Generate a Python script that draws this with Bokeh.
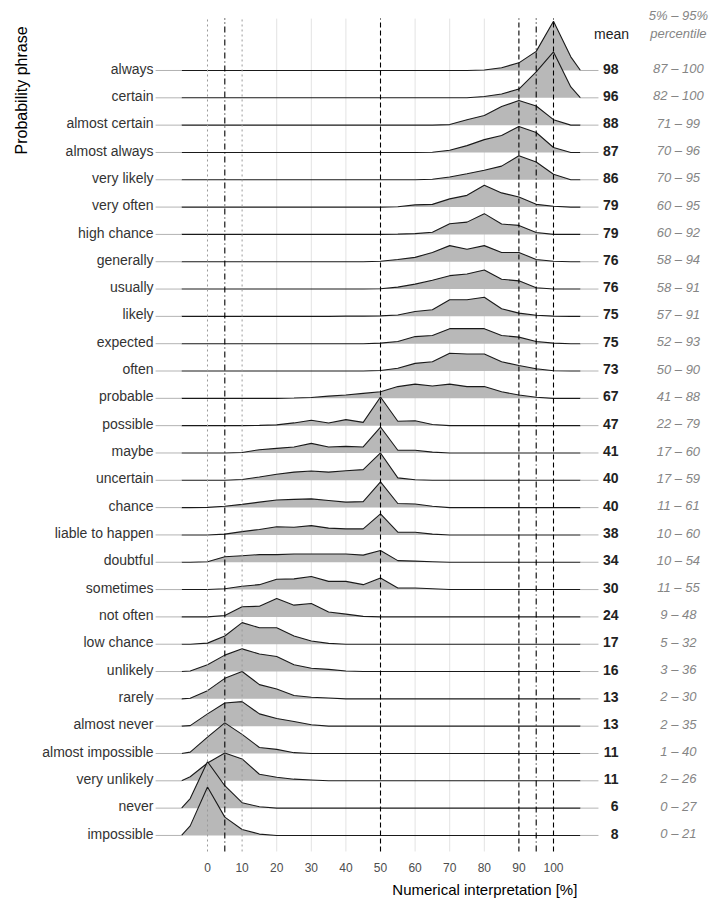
import math
from bokeh.plotting import figure
from bokeh.embed import file_html
from bokeh.resources import INLINE
from bokeh.core.properties import value

# ---------------- data ----------------
phrases = ["always", "certain", "almost certain", "almost always", "very likely",
           "very often", "high chance", "generally", "usually", "likely",
           "expected", "often", "probable", "possible", "maybe", "uncertain",
           "chance", "liable to happen", "doubtful", "sometimes", "not often",
           "low chance", "unlikely", "rarely", "almost never",
           "almost impossible", "very unlikely", "never", "impossible"]

means = [98, 96, 88, 87, 86, 79, 79, 76, 76, 75, 75, 73, 67, 47, 41, 40, 40,
         38, 34, 30, 24, 17, 16, 13, 13, 11, 11, 6, 8]

pct_low = [87, 82, 71, 70, 70, 60, 60, 58, 58, 57, 52, 50, 41, 22, 17, 17, 11,
           10, 10, 11, 9, 5, 3, 2, 2, 1, 2, 0, 0]
pct_high = [100, 100, 99, 96, 95, 95, 92, 94, 91, 91, 93, 90, 88, 79, 60, 59,
            61, 60, 54, 55, 48, 32, 36, 30, 35, 40, 26, 27, 21]

# density evaluation points (%)
grid = [-5, 0, 5, 10, 15, 20, 25, 30, 35, 40, 45, 50, 55, 60, 65, 70, 75, 80,
        85, 90, 95, 100, 105]

d_always = [0, 0, 0, 0, 0, 0, 0, 0, 0, 0, 0, 0, 0, 0, 0, 0, 0, 0.02, 0.1, 0.28, 0.7, 1.8, 0.5]
d_certain = [0, 0, 0, 0, 0, 0, 0, 0, 0, 0, 0, 0, 0, 0, 0, 0, 0, 0.05, 0.14, 0.32, 0.95, 1.68, 0.4]
d_almost_certain = [0, 0, 0, 0, 0, 0, 0, 0, 0, 0, 0, 0, 0, 0, 0, 0.02, 0.2, 0.35, 0.68, 0.9, 0.7, 0.2, 0]
d_almost_always = [0, 0, 0, 0, 0, 0, 0, 0, 0, 0, 0, 0, 0, 0, 0.01, 0.08, 0.25, 0.47, 0.62, 0.95, 0.73, 0.18, 0]
d_very_likely = [0, 0, 0, 0, 0, 0, 0, 0, 0, 0, 0, 0, 0, 0, 0.02, 0.1, 0.22, 0.35, 0.5, 0.88, 0.65, 0.2, 0]
d_very_often = [0, 0, 0, 0, 0, 0, 0, 0, 0, 0, 0, 0, 0.01, 0.08, 0.1, 0.3, 0.43, 0.8, 0.52, 0.37, 0.1, 0.03, 0]
d_high_chance = [0, 0, 0, 0, 0, 0, 0, 0, 0, 0, 0, 0, 0.01, 0.03, 0.08, 0.39, 0.45, 0.76, 0.38, 0.33, 0.07, 0, 0]
d_generally = [0, 0, 0, 0, 0, 0, 0, 0, 0, 0, 0, 0.02, 0.08, 0.16, 0.34, 0.59, 0.46, 0.59, 0.34, 0.34, 0.08, 0.02, 0]
d_usually = [0, 0, 0, 0, 0, 0, 0, 0, 0, 0, 0, 0.01, 0.07, 0.18, 0.32, 0.49, 0.55, 0.7, 0.36, 0.3, 0.05, 0, 0]
d_likely = [0, 0, 0, 0, 0, 0, 0, 0, 0, 0.01, 0.01, 0.02, 0.05, 0.18, 0.24, 0.61, 0.61, 0.7, 0.28, 0.12, 0.04, 0.01, 0]
d_expected = [0, 0, 0, 0, 0, 0, 0, 0, 0, 0, 0, 0.02, 0.08, 0.26, 0.3, 0.55, 0.55, 0.55, 0.3, 0.24, 0.08, 0.02, 0]
d_often = [0, 0, 0, 0, 0, 0, 0, 0, 0, 0, 0, 0.02, 0.1, 0.28, 0.34, 0.65, 0.62, 0.62, 0.34, 0.2, 0.08, 0.01, 0]
d_probable = [0, 0, 0, 0, 0, 0, 0.01, 0.03, 0.08, 0.12, 0.18, 0.24, 0.43, 0.52, 0.45, 0.52, 0.43, 0.43, 0.24, 0.12, 0.04, 0, 0]
d_possible = [0, 0, 0, 0, 0.01, 0.03, 0.1, 0.2, 0.1, 0.22, 0.12, 1.05, 0.16, 0.18, 0.04, 0, 0, 0, 0, 0, 0, 0, 0]
d_maybe = [0, 0, 0, 0.02, 0.12, 0.17, 0.22, 0.35, 0.22, 0.24, 0.22, 0.95, 0.1, 0.1, 0.03, 0, 0, 0, 0, 0, 0, 0, 0]
d_uncertain = [0, 0, 0, 0.03, 0.12, 0.22, 0.3, 0.34, 0.3, 0.35, 0.39, 1.0, 0.09, 0.02, 0, 0, 0, 0, 0, 0, 0, 0, 0]
d_chance = [0, 0.01, 0.05, 0.12, 0.2, 0.28, 0.3, 0.32, 0.26, 0.2, 0.22, 0.94, 0.15, 0.13, 0.05, 0, 0, 0, 0, 0, 0, 0, 0]
d_liable = [0, 0, 0.03, 0.12, 0.2, 0.3, 0.28, 0.34, 0.25, 0.22, 0.22, 0.77, 0.1, 0.1, 0.03, 0, 0, 0, 0, 0, 0, 0, 0]
d_doubtful = [0, 0.02, 0.2, 0.24, 0.28, 0.28, 0.3, 0.3, 0.3, 0.3, 0.26, 0.43, 0.06, 0.04, 0.02, 0, 0, 0, 0, 0, 0, 0, 0]
d_sometimes = [0, 0, 0.03, 0.12, 0.18, 0.38, 0.39, 0.48, 0.3, 0.3, 0.18, 0.42, 0.06, 0.06, 0.03, 0, 0, 0, 0, 0, 0, 0, 0]
d_not_often = [0, 0, 0.05, 0.37, 0.39, 0.67, 0.43, 0.49, 0.18, 0.1, 0.02, 0, 0, 0, 0, 0, 0, 0, 0, 0, 0, 0, 0]
d_low_chance = [0, 0.04, 0.3, 0.79, 0.6, 0.6, 0.3, 0.12, 0.03, 0, 0, 0, 0, 0, 0, 0, 0, 0, 0, 0, 0, 0, 0]
d_unlikely = [0.02, 0.25, 0.6, 0.83, 0.64, 0.55, 0.25, 0.12, 0.08, 0.02, 0, 0, 0, 0, 0, 0, 0, 0, 0, 0, 0, 0, 0]
d_rarely = [0.02, 0.3, 0.75, 1.0, 0.52, 0.36, 0.12, 0.06, 0.03, 0, 0, 0, 0, 0, 0, 0, 0, 0, 0, 0, 0, 0, 0]
d_almost_never = [0.02, 0.45, 0.85, 0.9, 0.45, 0.28, 0.17, 0.05, 0, 0, 0, 0, 0, 0, 0, 0, 0, 0, 0, 0, 0, 0, 0]
d_almost_impossible = [0.05, 0.6, 1.12, 0.7, 0.22, 0.15, 0.03, 0, 0, 0, 0, 0, 0, 0, 0, 0, 0, 0, 0, 0, 0, 0, 0]
d_very_unlikely = [0.15, 0.65, 1.02, 0.8, 0.24, 0.13, 0.06, 0.03, 0, 0, 0, 0, 0, 0, 0, 0, 0, 0, 0, 0, 0, 0, 0]
d_never = [0.35, 1.7, 0.82, 0.2, 0.05, 0, 0, 0, 0, 0, 0, 0, 0, 0, 0, 0, 0, 0, 0, 0, 0, 0, 0]
d_impossible = [0.35, 1.77, 0.67, 0.22, 0.05, 0, 0, 0, 0, 0, 0, 0, 0, 0, 0, 0, 0, 0, 0, 0, 0, 0, 0]

densities = [d_always, d_certain, d_almost_certain, d_almost_always, d_very_likely,
             d_very_often, d_high_chance, d_generally, d_usually, d_likely,
             d_expected, d_often, d_probable, d_possible, d_maybe, d_uncertain,
             d_chance, d_liable, d_doubtful, d_sometimes, d_not_often,
             d_low_chance, d_unlikely, d_rarely, d_almost_never,
             d_almost_impossible, d_very_unlikely, d_never, d_impossible]

x_ticks = [0, 10, 20, 30, 40, 50, 60, 70, 80, 90, 100]
ref_dotted = [0, 10]
ref_dashdot = [5, 95]
ref_dashed = [50, 90, 100]
grid_lines = [20, 30, 40, 60, 70, 80]

# ---------------- layout (data space of the ridge panel) ----------------
FONT = "Liberation Sans"
XMIN, XMAX = -7.5, 107.8          # extent of each density ridge
Y_BOTTOM, LINE_TOP = -0.587, 29.9  # extent of the vertical guide lines
n = len(phrases)
rows = [n - 1 - i for i in range(n)]

p = figure(width=717, height=900, x_range=(-59.83, 147.4), y_range=(-2.381, 30.562),
           output_backend="svg", toolbar_location=None,
           min_border_left=0, min_border_right=0, min_border_top=0,
           min_border_bottom=0)
p.outline_line_color = None
p.background_fill_color = "white"
p.border_fill_color = "white"
p.xaxis.visible = False
p.yaxis.visible = False
p.xgrid.grid_line_color = None
p.ygrid.grid_line_color = None

# light vertical grid lines
p.segment(x0=grid_lines, x1=grid_lines, y0=[Y_BOTTOM] * len(grid_lines),
          y1=[LINE_TOP] * len(grid_lines), line_color="#e3e3e3", line_width=1)

# ridges, top row first so lower rows overlap upper ones
for r, dens in zip(rows, densities):
    xs = [XMIN] + grid + [XMAX]
    ys = [r] + [r + h for h in dens] + [r]
    p.patch(xs, ys, fill_color="#b8b8b8", line_color=None)
    p.line(xs, ys, line_color="#1a1a1a", line_width=1.1)

# tick connectors (left to labels, right to mean column)
p.segment(x0=[-15.0] * n, x1=[XMIN] * n, y0=rows, y1=rows,
          line_color="#b3b3b3", line_width=1)
p.segment(x0=[XMAX] * n, x1=[113.0] * n, y0=rows, y1=rows,
          line_color="#b3b3b3", line_width=1)

# reference lines
p.segment(x0=ref_dotted, x1=ref_dotted, y0=[Y_BOTTOM] * 2, y1=[LINE_TOP] * 2,
          line_color="#9a9a9a", line_width=1, line_dash="2 3")
p.segment(x0=ref_dashdot, x1=ref_dashdot, y0=[Y_BOTTOM] * 2, y1=[LINE_TOP] * 2,
          line_color="black", line_width=1.1, line_dash="6 3 1 3")
p.segment(x0=ref_dashed, x1=ref_dashed, y0=[Y_BOTTOM] * 3, y1=[LINE_TOP] * 3,
          line_color="black", line_width=1.1, line_dash="5 3")

# phrase labels (y axis)
p.text(x=[-15.6] * n, y=[r + 0.07 for r in rows], text=phrases,
       text_align="right", text_baseline="middle", text_font=value(FONT),
       text_font_size="14px", text_color="#333333")

# x tick labels
p.text(x=x_ticks, y=[-1.173] * len(x_ticks), text=[str(t) for t in x_ticks],
       text_align="center", text_baseline="middle", text_font=value(FONT),
       text_font_size="12px", text_color="#4d4d4d")

# mean and percentile columns
p.text(x=[118.8] * n, y=[r + 0.07 for r in rows], text=[str(m) for m in means],
       text_align="right", text_baseline="middle", text_font=value(FONT),
       text_font_size="14px", text_font_style="bold", text_color="#222222")
p.text(x=[136.1] * n, y=[r + 0.07 for r in rows],
       text=[f"{lo} \u2013 {hi}" for lo, hi in zip(pct_low, pct_high)],
       text_align="center", text_baseline="middle", text_font=value(FONT),
       text_font_size="13px", text_font_style="italic", text_color="#858585")

p.text(x=[116.8], y=[29.35], text=["mean"], text_align="center",
       text_baseline="middle", text_font=value(FONT), text_font_size="14px",
       text_color="#222222")
p.text(x=[136.1, 136.1], y=[30.01, 29.35], text=["5% \u2013 95%", "percentile"],
       text_align="center", text_baseline="middle", text_font=value(FONT),
       text_font_size="13px", text_font_style="italic", text_color="#858585")

# axis titles
p.text(x=[-53.76], y=[27.27], text=["Probability phrase"], angle=math.pi / 2,
       text_align="center", text_baseline="middle", text_font=value(FONT),
       text_font_size="16px", text_color="black")
p.text(x=[106.9], y=[-1.977], text=["Numerical interpretation [%]"],
       text_align="right", text_baseline="middle", text_font=value(FONT),
       text_font_size="15px", text_color="black")

open("out.html", "w").write(file_html(p, INLINE))
